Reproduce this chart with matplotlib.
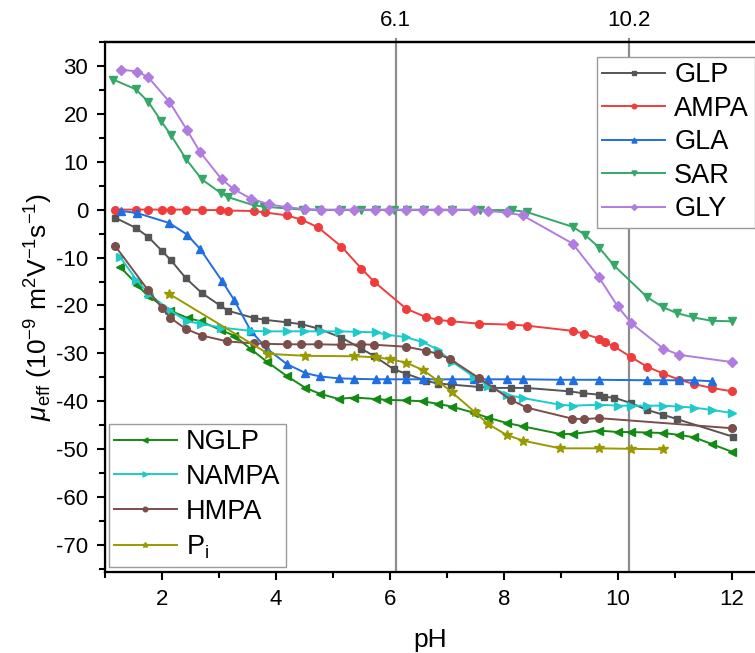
import matplotlib
matplotlib.use("Agg")
import matplotlib.pyplot as plt

plt.rcParams['font.family'] = ['Liberation Sans', 'DejaVu Sans']
plt.rcParams['mathtext.fontset'] = 'custom'
plt.rcParams['mathtext.rm'] = 'Liberation Sans'
plt.rcParams['mathtext.it'] = 'Liberation Sans:italic'
plt.rcParams['axes.unicode_minus'] = False

# ---------------------------------------------------------------------------
# Data (pH, mobility in 1e-9 m^2/(V s))
# ---------------------------------------------------------------------------
glp_ph = [1.18, 1.54, 1.76, 2.0, 2.16, 2.42, 2.70, 3.02, 3.16, 3.61, 3.81, 4.19, 4.45,
          4.74, 5.15, 5.50, 5.73, 6.07, 6.28, 6.63, 6.85, 7.08, 7.57, 7.79, 8.13, 8.40,
          9.14, 9.39, 9.67, 9.76, 9.93, 10.24, 10.52, 10.80, 11.04, 12.03]
glp_mu = [-1.7, -3.8, -5.7, -8.6, -10.6, -14.3, -17.4, -20.0, -21.1, -22.6, -23.0, -23.5, -23.9,
          -24.8, -26.7, -29.0, -30.6, -33.3, -34.2, -35.7, -36.3, -36.5, -37.0, -37.2, -37.2, -37.2,
          -37.9, -38.3, -38.6, -39.1, -39.2, -40.4, -41.8, -42.8, -43.7, -47.4]

ampa_ph = [1.18, 1.54, 1.76, 2.0, 2.16, 2.42, 2.70, 3.02, 3.16, 3.61, 3.81, 4.19, 4.45, 4.74,
           5.15, 5.50, 5.73, 6.29, 6.63, 6.85, 7.08, 7.57, 8.13, 8.40, 9.21, 9.41, 9.67, 9.77,
           9.93, 10.24, 10.52, 10.80, 11.08, 11.34, 11.65, 12.0]
ampa_mu = [0.0, 0.0, 0.0, 0.0, 0.0, 0.0, -0.1, -0.1, -0.2, -0.3, -0.6, -1.2, -2.1, -3.7,
           -7.7, -12.3, -15.1, -20.7, -22.4, -23.0, -23.3, -23.8, -24.0, -24.2, -25.3, -25.9, -26.9, -27.7,
           -28.5, -30.8, -32.8, -34.2, -35.5, -36.4, -37.2, -37.9]

gla_ph = [1.28, 1.56, 2.13, 2.44, 2.67, 3.05, 3.27, 3.56, 3.85, 4.19, 4.52, 4.77, 5.10, 5.37,
          5.75, 5.95, 6.28, 6.59, 6.84, 7.09, 7.48, 7.72, 8.05, 8.33, 8.99, 9.21, 9.67, 10.52,
          10.80, 11.08, 11.34, 11.65]
gla_mu = [-0.3, -0.7, -2.8, -5.2, -8.2, -14.8, -18.9, -25.3, -29.1, -32.2, -34.1, -34.8, -35.2, -35.3,
          -35.4, -35.4, -35.4, -35.4, -35.4, -35.4, -35.4, -35.4, -35.4, -35.4, -35.5, -35.5, -35.5, -35.6,
          -35.6, -35.6, -35.6, -35.8]

sar_ph = [1.15, 1.54, 1.76, 1.99, 2.16, 2.42, 2.70, 3.03, 3.16, 3.61, 3.79, 4.47, 4.76, 5.14,
          5.49, 5.75, 6.07, 6.30, 6.60, 7.10, 7.59, 8.14, 8.40, 9.21, 9.42, 9.68, 9.93, 10.52,
          10.80, 11.04, 11.33, 11.65, 12.0]
sar_mu = [27.1, 25.1, 22.5, 18.4, 15.5, 10.6, 6.3, 3.5, 2.6, 0.9, 0.6, 0.0, -0.1, -0.1,
          -0.1, -0.1, -0.1, -0.1, -0.1, -0.1, -0.1, -0.1, -0.5, -3.6, -5.2, -8.0, -11.6, -18.3,
          -20.4, -21.6, -22.5, -23.2, -23.3]

gly_ph = [1.28, 1.57, 1.76, 2.13, 2.44, 2.67, 3.05, 3.27, 3.56, 3.88, 4.19, 4.51, 4.79, 5.11,
          5.37, 5.74, 5.98, 6.28, 6.59, 6.84, 7.09, 7.48, 7.72, 8.05, 8.33, 9.21, 9.67, 10.0,
          10.24, 10.80, 11.08, 12.0]
gly_mu = [29.2, 28.8, 27.6, 22.5, 16.6, 12.0, 6.3, 4.2, 2.3, 1.1, 0.5, 0.1, 0.0, 0.0,
          0.0, 0.0, 0.0, 0.0, 0.0, 0.0, 0.0, 0.0, -0.3, -0.6, -1.2, -7.1, -14.1, -20.2,
          -23.7, -29.0, -30.3, -31.8]

nglp_ph = [1.27, 1.57, 1.75, 2.15, 2.45, 2.68, 3.03, 3.27, 3.55, 3.85, 4.19, 4.52, 4.77, 5.10,
           5.37, 5.75, 5.95, 6.28, 6.59, 6.84, 7.09, 7.48, 7.72, 8.05, 8.33, 8.99, 9.21, 9.67,
           10.01, 10.24, 10.52, 10.80, 11.08, 11.34, 11.65, 12.0]
nglp_mu = [-12.0, -15.7, -18.0, -21.1, -22.6, -23.3, -25.1, -26.3, -29.0, -31.8, -34.7, -37.2, -38.4, -39.5,
           -39.2, -39.5, -39.7, -39.8, -40.0, -40.5, -41.1, -42.4, -43.4, -44.5, -45.2, -46.8, -46.8, -46.1,
           -46.4, -46.4, -46.5, -46.6, -47.0, -47.5, -48.9, -50.5]

nampa_ph = [1.26, 1.55, 1.77, 2.13, 2.44, 2.68, 3.03, 3.56, 3.85, 4.19, 4.49, 4.79, 5.10, 5.43,
            5.75, 5.95, 6.28, 6.59, 6.84, 7.09, 7.48, 7.72, 8.05, 8.33, 8.99, 9.21, 9.67, 10.01,
            10.24, 10.52, 10.80, 11.08, 11.34, 11.65, 12.0]
nampa_mu = [-9.8, -14.6, -17.6, -20.9, -23.3, -23.8, -24.6, -25.3, -25.4, -25.4, -25.4, -25.4, -25.4, -25.5,
            -25.6, -26.1, -26.6, -27.7, -29.2, -31.7, -34.9, -36.7, -38.6, -39.3, -40.7, -40.9, -40.7, -40.9,
            -40.9, -40.9, -40.9, -41.1, -41.3, -41.8, -42.4]

hmpa_ph = [1.18, 1.75, 2.0, 2.15, 2.42, 2.71, 3.15, 3.61, 3.81, 4.19, 4.45, 4.74, 5.15, 5.50,
           5.73, 6.28, 6.63, 6.84, 7.06, 7.56, 8.13, 8.40, 9.20, 9.41, 9.67, 12.0]
hmpa_mu = [-7.6, -16.7, -20.5, -22.6, -24.9, -26.3, -27.5, -27.9, -28.0, -28.1, -28.1, -28.1, -28.2, -28.1,
           -28.2, -28.6, -29.4, -30.1, -31.2, -35.1, -39.7, -41.3, -43.6, -43.7, -43.5, -45.6]

pi_ph = [2.13, 3.87, 4.52, 5.37, 5.75, 6.0, 6.28, 6.59, 6.84, 7.09, 7.50, 7.72, 8.05, 8.34,
         8.99, 9.67, 10.24, 10.80]
pi_mu = [-17.6, -30.1, -30.5, -30.6, -30.8, -31.2, -31.9, -33.5, -35.7, -38.1, -42.3, -44.7, -47.0, -48.2,
         -49.8, -49.8, -49.9, -50.0]

pka_marks = [6.1, 10.2]
pka_labels = ['6.1', '10.2']

# ---------------------------------------------------------------------------
fig = plt.figure(figsize=(7.55, 6.53), dpi=100)
ax = fig.add_axes([0.139, 0.124, 0.861, 0.812])

for x in pka_marks:
    ax.axvline(x, color='#8c8c8c', linewidth=1.6, zorder=1)

series_a = [
    ('GLP',  glp_ph,  glp_mu,  '#555555', 's', 5.0),
    ('AMPA', ampa_ph, ampa_mu, '#ef3d3d', 'o', 5.5),
    ('GLA',  gla_ph,  gla_mu,  '#1f6fe0', '^', 6.0),
    ('SAR',  sar_ph,  sar_mu,  '#34a866', 'v', 6.0),
    ('GLY',  gly_ph,  gly_mu,  '#b07ce0', 'D', 5.0),
]
series_b = [
    ('NGLP',  nglp_ph,  nglp_mu,  '#138a13', '<', 6.0),
    ('NAMPA', nampa_ph, nampa_mu, '#1ecaca', '>', 6.0),
    ('HMPA',  hmpa_ph,  hmpa_mu,  '#7b4d4b', 'o', 5.5),
    (r'P$_{\rm i}$', pi_ph, pi_mu, '#999900', '*', 7.0),
]

handles_a, handles_b = [], []
for name, xs, ys, col, mk, ms in series_a:
    h, = ax.plot(xs, ys, color=col, marker=mk, markersize=ms, linewidth=1.4, label=name, zorder=3)
    handles_a.append(h)
for name, xs, ys, col, mk, ms in series_b:
    h, = ax.plot(xs, ys, color=col, marker=mk, markersize=ms, linewidth=1.4, label=name, zorder=3)
    handles_b.append(h)

ax.set_xlim(1.02, 12.41)
ax.set_ylim(-75.6, 35.0)
ax.set_xticks([2, 4, 6, 8, 10, 12])
ax.set_xticks([1, 3, 5, 7, 9, 11], minor=True)
ax.set_yticks(range(-70, 31, 10))
ax.set_yticks(range(-75, 36, 5), minor=True)
ax.tick_params(axis='both', which='major', direction='out', length=6, width=1.5, labelsize=16, pad=6)
ax.tick_params(axis='both', which='minor', direction='out', length=4, width=1.5)
ax.tick_params(axis='y', which='both', right=False)
for side in ['left', 'bottom', 'top']:
    ax.spines[side].set_linewidth(1.6)
ax.spines['right'].set_visible(False)

ax.set_xlabel('pH', fontsize=19, labelpad=13)
ax.set_ylabel(r'$\mu_{\rm eff}$ (10$^{-9}$ m$^{2}$V$^{-1}$s$^{-1}$)', fontsize=19, labelpad=1)

top = ax.twiny()
top.set_xlim(ax.get_xlim())
top.set_xticks(pka_marks)
top.set_xticklabels(pka_labels)
top.tick_params(axis='x', direction='out', length=3, width=1.5, color='#8c8c8c', labelsize=16, pad=5)
top.spines['right'].set_visible(False)
top.spines['top'].set_linewidth(1.6)

leg_kw = dict(fontsize=19.5, frameon=True, fancybox=False, framealpha=1, edgecolor='#9a9a9a',
              handlelength=2.3, handletextpad=0.35, borderpad=0.2,
              borderaxespad=0, markerscale=0.6)
leg_a = ax.legend(handles=handles_a, loc='upper left', bbox_to_anchor=(0.757, 0.972),
                  labelspacing=0.28, **leg_kw)
leg_a.get_frame().set_linewidth(1.0)
ax.add_artist(leg_a)
leg_b = ax.legend(handles=handles_b, loc='lower left', bbox_to_anchor=(0.006, 0.01),
                  labelspacing=0.33, **leg_kw)
leg_b.get_frame().set_linewidth(1.0)
top.set_zorder(ax.get_zorder() - 1)
ax.patch.set_visible(False)

fig.savefig('out.png', dpi=100)
